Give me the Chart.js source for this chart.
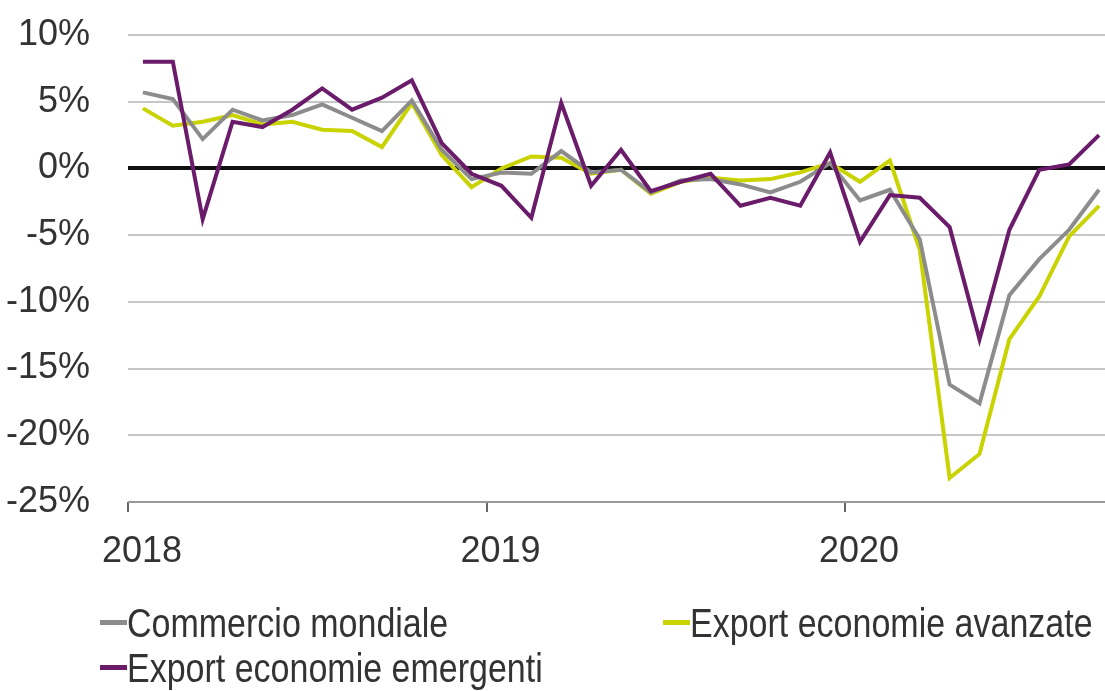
<!DOCTYPE html>
<html>
<head>
<meta charset="utf-8">
<script src="https://cdn.jsdelivr.net/npm/chart.js@4"></script>
<style>
  html, body { margin: 0; padding: 0; background: #fff; }
  #wrap { position: relative; width: 1105px; height: 691px; overflow: hidden; }
  #chart { position: absolute; left: 0; top: 0; }
  .leg { position: absolute; height: 44px; font: 40px 'Liberation Sans', Arial, sans-serif; color: #333; white-space: nowrap; line-height: 44px; }
  .leg i { position: absolute; left: 0; top: 19px; width: 27px; height: 5px; }
  .leg span { display: inline-block; margin-left: 27px; transform: scaleX(0.85); transform-origin: left center; }
</style>
</head>
<body>
<div id="wrap">
  <canvas id="chart" width="1105" height="691"></canvas>
  <div class="leg" style="left:100px;top:601px"><i style="background:#8c8c8c"></i><span>Commercio mondiale</span></div>
  <div class="leg" style="left:663px;top:601px"><i style="background:#c9d300"></i><span>Export economie avanzate</span></div>
  <div class="leg" style="left:100px;top:646px"><i style="background:#6a1b6a"></i><span>Export economie emergenti</span></div>
</div>
<script>
// monthly series, Jan 2018 - Sep 2020 (% y/y)
const months = ['2018-01','2018-02','2018-03','2018-04','2018-05','2018-06','2018-07','2018-08','2018-09','2018-10','2018-11','2018-12',
                '2019-01','2019-02','2019-03','2019-04','2019-05','2019-06','2019-07','2019-08','2019-09','2019-10','2019-11','2019-12',
                '2020-01','2020-02','2020-03','2020-04','2020-05','2020-06','2020-07','2020-08','2020-09'];

const commercioMondiale = [5.7, 5.2, 2.2, 4.4, 3.6, 4.0, 4.8, 3.8, 2.8, 5.1, 1.4, -0.8,
                           -0.3, -0.4, 1.3, -0.3, -0.1, -1.8, -0.9, -0.8, -1.2, -1.8, -1.0, 0.4,
                           -2.4, -1.6, -5.3, -16.2, -17.6, -9.5, -6.8, -4.6, -1.6];

const exportAvanzate = [4.5, 3.2, 3.5, 4.0, 3.3, 3.5, 2.9, 2.8, 1.6, 4.9, 1.0, -1.4,
                        0.0, 0.9, 0.8, -0.4, -0.1, -1.9, -1.0, -0.7, -0.9, -0.8, -0.3, 0.4,
                        -1.0, 0.6, -6.1, -23.2, -21.4, -12.8, -9.6, -5.1, -2.8];

const exportEmergenti = [8.0, 8.0, -3.8, 3.5, 3.1, 4.4, 6.0, 4.4, 5.3, 6.6, 1.9, -0.4,
                         -1.3, -3.7, 4.9, -1.3, 1.4, -1.7, -1.0, -0.4, -2.8, -2.2, -2.8, 1.2,
                         -5.5, -2.0, -2.2, -4.4, -12.8, -4.6, -0.1, 0.3, 2.5];

const yearTicks = [0, 12, 24];
const yearLabels = ['2018', '2019', '2020'];

const FONT = "'Liberation Sans', Arial, sans-serif";

// each month is plotted at the middle of its slot
const toPoints = arr => arr.map((v, i) => ({ x: i + 0.5, y: v }));

const series = [
  { label: 'Export economie emergenti', data: exportEmergenti, color: '#6a1b6a', order: 0 },
  { label: 'Commercio mondiale', data: commercioMondiale, color: '#8c8c8c', order: 1 },
  { label: 'Export economie avanzate', data: exportAvanzate, color: '#c9d300', order: 2 }
];

new Chart(document.getElementById('chart'), {
  type: 'line',
  data: {
    datasets: series.map(s => ({
      label: s.label,
      data: toPoints(s.data),
      borderColor: s.color,
      borderWidth: 4,
      pointRadius: 0,
      tension: 0,
      fill: false,
      order: s.order
    }))
  },
  options: {
    responsive: false,
    animation: false,
    layout: { autoPadding: false, padding: { top: 35, right: 0, bottom: 0, left: 0 } },
    plugins: { legend: { display: false }, tooltip: { enabled: false } },
    scales: {
      x: {
        type: 'linear',
        min: 0,
        max: 32.7,
        afterFit: s => { s.height = 189; },
        afterBuildTicks: s => { s.ticks = yearTicks.map(v => ({ value: v })); },
        border: { display: false },
        grid: { drawOnChartArea: false, drawTicks: true, tickLength: 10, color: '#666', lineWidth: 2 },
        ticks: {
          callback: (v, i) => yearLabels[i],
          color: '#333',
          font: { family: FONT, size: 36 },
          padding: 18,
          labelOffset: 14,
          maxRotation: 0
        }
      },
      y: {
        min: -25,
        max: 10,
        // fixed axis width; the large label gap must not push the plot down
        afterFit: s => { s.width = 128; s.paddingTop = 0; s.paddingBottom = 0; },
        border: { display: false },
        grid: {
          drawTicks: false,
          color: c => c.tick.value === 0 ? '#111' : (c.tick.value === -25 ? '#999' : '#c6c6c6'),
          lineWidth: c => c.tick.value === 0 ? 4 : 2
        },
        ticks: {
          stepSize: 5,
          callback: v => v + '%',
          color: '#333',
          font: { family: FONT, size: 36 },
          padding: 38
        }
      }
    }
  }
});
</script>
</body>
</html>
